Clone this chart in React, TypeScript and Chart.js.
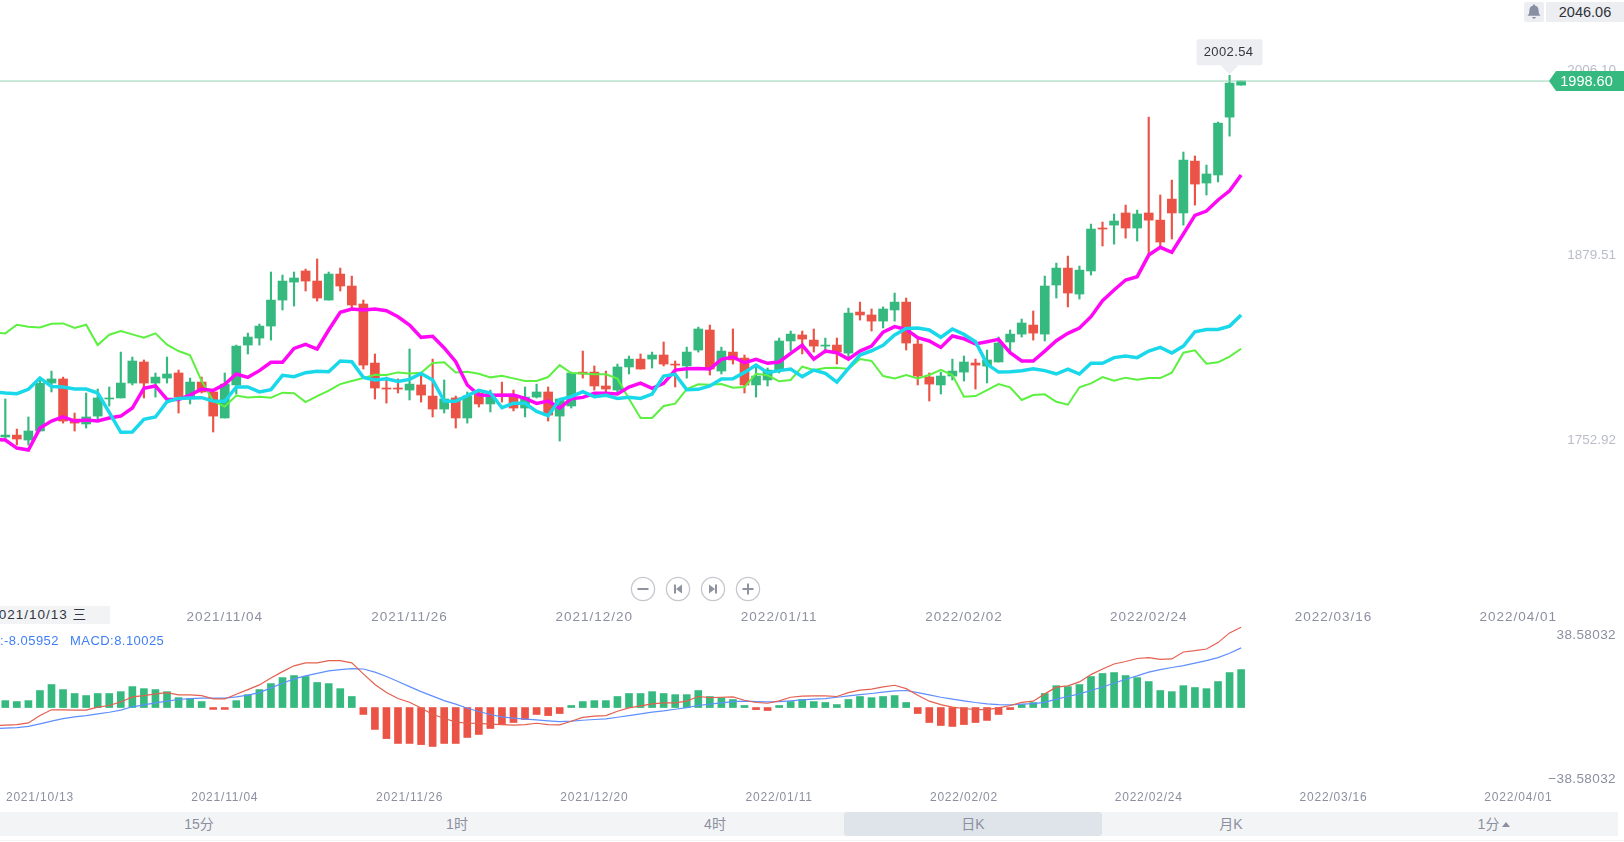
import React, { useEffect, useRef } from "react";
import { Chart, registerables } from "chart.js";

Chart.register(...registerables);

const tickIndexes = [3, 19, 35, 51, 67, 83, 99, 115, 131];
const tickDates = ["2021/10/13", "2021/11/04", "2021/11/26", "2021/12/20", "2022/01/11", "2022/02/02", "2022/02/24", "2022/03/16", "2022/04/01"];
const priceTicks = [1752.92, 1879.51, 2006.1];
const macdTicks = [-38.58032, 38.58032];
const lastPrice = 1998.6;
const peakPrice = 2002.54;

const opens = [1755.0,1756.3,1752.9,1759.1,1791.9,1794.7,1767.3,1763.9,1769.3,1781.0,1781.7,1791.9,1806.3,1791.9,1795.3,1798.8,1782.3,1792.6,1785.8,1768.0,1790.6,1817.9,1822.7,1830.9,1848.7,1861.0,1868.6,1861.7,1848.7,1866.5,1858.3,1846.0,1805.6,1788.5,1788.5,1787.1,1790.6,1783.0,1774.1,1781.7,1768.0,1785.1,1777.6,1784.4,1782.3,1774.8,1782.3,1785.8,1769.3,1776.2,1799.4,1799.4,1789.9,1787.1,1802.9,1808.3,1808.3,1811.1,1804.9,1803.6,1814.5,1828.2,1800.1,1813.1,1809.0,1790.6,1794.0,1800.8,1820.7,1824.8,1821.3,1817.2,1817.9,1812.4,1840.5,1838.5,1834.3,1841.9,1847.3,1818.6,1796.0,1790.6,1796.7,1799.4,1805.6,1803.5,1806.3,1820.0,1825.4,1831.6,1825.4,1859.0,1870.6,1852.8,1868.6,1898.0,1900.0,1908.3,1898.0,1908.3,1903.4,1917.8,1908.3,1943.8,1928.8,1934.3,1973.9,1995.8];
const closes = [1756.3,1753.6,1759.1,1791.7,1794.7,1765.9,1764.5,1768.7,1781.7,1781.7,1791.9,1807.0,1791.9,1796.0,1798.1,1782.3,1792.6,1785.8,1769.3,1791.2,1817.2,1823.4,1830.9,1848.7,1861.7,1863.8,1861.7,1850.1,1866.5,1858.3,1845.3,1804.2,1788.5,1787.8,1787.8,1791.2,1783.7,1774.1,1781.0,1768.0,1783.0,1777.6,1784.4,1783.0,1774.8,1782.3,1785.8,1770.0,1781.0,1798.8,1798.1,1789.9,1787.8,1802.9,1808.3,1801.5,1811.1,1804.9,1804.2,1813.1,1828.9,1801.5,1813.8,1807.7,1790.6,1796.7,1800.8,1820.7,1825.4,1822.0,1817.2,1817.9,1813.1,1839.8,1838.5,1834.3,1842.6,1847.3,1819.3,1796.7,1791.2,1796.7,1800.1,1806.3,1804.2,1807.7,1819.3,1825.4,1833.0,1826.1,1858.3,1870.6,1853.5,1869.2,1897.3,1897.3,1902.8,1898.0,1907.6,1903.4,1888.4,1908.3,1944.5,1928.1,1935.0,1969.8,1997.2,1998.6];
const highs = [1781.0,1760.4,1768.7,1795.1,1800.1,1796.0,1771.4,1785.1,1787.8,1789.2,1813.1,1809.7,1807.7,1798.8,1809.7,1800.8,1795.3,1796.0,1787.1,1798.8,1817.9,1826.1,1832.3,1867.9,1865.8,1867.9,1869.9,1876.8,1867.9,1870.6,1865.1,1848.7,1811.8,1796.0,1794.7,1815.2,1797.4,1808.3,1794.0,1783.0,1785.8,1787.1,1787.1,1792.6,1787.1,1789.2,1791.2,1789.2,1781.0,1799.4,1813.8,1803.6,1800.1,1804.9,1810.4,1811.8,1813.1,1820.0,1807.0,1816.5,1830.2,1831.6,1816.5,1828.9,1811.1,1804.2,1802.2,1822.7,1827.5,1827.5,1828.9,1822.7,1822.7,1843.2,1847.3,1842.6,1844.0,1853.5,1850.1,1822.0,1798.8,1799.4,1808.3,1810.4,1808.3,1814.5,1823.4,1828.2,1835.7,1841.2,1865.1,1874.0,1878.8,1872.0,1900.7,1902.1,1907.6,1913.7,1910.3,1973.9,1920.6,1930.8,1950.0,1947.3,1941.1,1970.5,2002.54,1998.6];
const lows = [1754.0,1749.5,1749.5,1759.1,1785.8,1764.5,1759.1,1761.1,1766.6,1776.2,1781.7,1790.6,1781.7,1782.3,1791.9,1771.4,1777.6,1785.1,1758.4,1768.0,1784.4,1811.8,1817.9,1821.3,1841.9,1844.6,1854.9,1848.0,1848.7,1854.9,1841.9,1801.5,1781.0,1778.2,1785.1,1780.3,1778.9,1768.7,1771.4,1761.1,1764.5,1775.5,1772.1,1778.9,1772.8,1768.7,1781.7,1765.9,1752.2,1774.8,1795.3,1787.1,1784.4,1784.4,1798.1,1801.5,1802.2,1803.6,1789.2,1795.3,1813.1,1797.4,1798.1,1804.9,1785.1,1782.3,1789.9,1798.8,1813.8,1811.8,1813.1,1812.4,1804.9,1809.7,1835.0,1827.5,1829.6,1834.3,1814.5,1790.6,1779.6,1784.4,1794.0,1793.3,1787.8,1792.0,1806.3,1813.1,1823.4,1821.3,1820.7,1850.1,1844.0,1849.4,1865.8,1885.7,1887.0,1891.1,1889.1,1879.5,1885.7,1890.5,1900.0,1913.7,1920.6,1929.5,1960.9,1995.8];

// The five line series begin one session before the first candle, just off the left edge.
const magentaLine = [1753.4,1752.9,1747.4,1746.1,1761.1,1765.9,1768.7,1765.9,1766.6,1765.9,1768.0,1769.3,1774.8,1788.3,1789.9,1780.7,1780.7,1783.7,1787.8,1786.9,1791.0,1798.1,1795.8,1800.4,1806.1,1806.1,1815.6,1818.4,1815.2,1828.2,1840.3,1842.6,1841.9,1842.6,1841.4,1837.3,1831.6,1823.2,1823.9,1815.9,1806.5,1790.6,1783.7,1783.5,1783.5,1783.7,1781.4,1778.0,1779.6,1774.8,1781.2,1782.1,1784.9,1784.9,1784.4,1789.2,1791.9,1788.3,1791.7,1800.8,1801.7,1801.9,1801.5,1808.1,1809.7,1805.8,1808.1,1805.4,1806.3,1812.2,1817.9,1808.3,1813.8,1812.7,1808.3,1813.8,1817.2,1826.8,1830.5,1828.6,1823.0,1820.7,1816.3,1824.1,1822.2,1818.6,1820.2,1821.8,1812.7,1807.0,1807.0,1813.8,1820.9,1825.9,1829.6,1837.3,1848.3,1855.6,1862.4,1864.7,1879.5,1884.8,1881.4,1893.9,1906.7,1909.6,1917.2,1923.5,1934.3];
const cyanLine = [1785.8,1785.1,1784.6,1787.6,1795.3,1789.6,1789.2,1787.8,1787.8,1785.1,1771.8,1758.2,1758.4,1767.1,1768.7,1779.1,1781.4,1781.7,1781.9,1779.6,1779.4,1789.2,1789.2,1785.8,1787.4,1797.2,1796.3,1799.0,1799.9,1799.7,1807.0,1806.5,1795.8,1794.0,1794.9,1793.0,1794.4,1798.5,1794.0,1779.6,1779.4,1783.3,1786.9,1785.1,1775.0,1778.0,1778.0,1772.5,1769.6,1780.7,1782.6,1786.0,1782.6,1783.5,1781.4,1782.1,1781.4,1784.4,1796.7,1797.9,1787.4,1787.6,1789.9,1794.7,1794.9,1799.2,1804.2,1799.0,1800.4,1801.5,1796.3,1800.8,1798.5,1792.6,1802.0,1811.1,1814.0,1817.7,1824.8,1829.3,1829.6,1828.2,1823.2,1828.9,1825.2,1820.2,1804.9,1799.4,1799.7,1800.4,1801.7,1800.4,1798.1,1801.5,1798.1,1805.4,1805.4,1809.3,1810.4,1809.3,1813.8,1816.3,1812.4,1817.2,1827.0,1828.6,1828.6,1830.9,1838.5];
const greenLine = [1826.4,1825.9,1831.8,1830.5,1830.0,1832.5,1832.7,1829.6,1831.8,1817.9,1825.0,1827.5,1825.2,1822.9,1825.9,1818.2,1813.8,1810.9,1793.3,1779.6,1775.9,1783.3,1782.1,1782.6,1781.9,1785.3,1784.9,1778.9,1783.0,1786.7,1791.2,1793.3,1795.3,1797.6,1797.4,1799.2,1798.5,1799.0,1805.6,1806.1,1799.2,1799.7,1798.3,1795.8,1796.9,1795.1,1793.3,1793.3,1796.0,1804.2,1798.8,1798.5,1797.9,1797.9,1794.9,1781.2,1768.0,1768.0,1776.2,1777.8,1787.8,1791.0,1790.8,1791.2,1788.7,1789.2,1798.3,1797.2,1793.1,1794.0,1803.1,1800.8,1802.2,1802.4,1801.5,1808.3,1807.0,1796.7,1795.1,1797.4,1795.1,1797.4,1801.0,1797.4,1782.6,1783.0,1787.1,1791.2,1789.0,1780.3,1783.7,1784.2,1779.1,1777.1,1789.0,1791.7,1796.0,1793.5,1795.6,1794.2,1795.3,1795.3,1799.0,1812.7,1814.3,1805.2,1806.1,1810.0,1815.4];

const macdHist = [3.7,3.2,3.7,9.1,12.3,9.6,7.5,6.4,7.5,7.5,8.5,11.2,10.1,9.6,8.5,5.3,4.8,3.2,-1.0,-1.0,3.7,6.9,9.6,12.8,16.0,17.1,16.6,13.4,12.8,10.1,5.9,-3.7,-11.7,-16.6,-19.2,-19.2,-19.8,-20.8,-19.2,-19.2,-16.0,-14.4,-11.2,-9.1,-8.0,-6.4,-3.7,-4.3,-3.2,1.1,3.2,3.7,3.7,5.9,7.5,7.5,8.5,7.5,6.9,6.9,9.1,5.9,5.3,4.3,1.1,-1.1,-1.6,1.1,3.2,4.3,3.2,2.7,1.6,4.3,5.9,5.3,5.9,6.4,2.7,-3.2,-8.0,-9.6,-10.1,-9.1,-8.0,-6.9,-3.7,-1.1,1.6,2.7,7.5,11.7,11.2,12.3,16.6,18.2,18.7,17.1,16.0,13.9,9.1,8.5,11.7,10.7,10.1,13.9,18.7,20.3];
const difLine = [-9.6,-9.4,-9.1,-8.2,-4.3,-1.2,-1.2,-1.4,-1.4,0.2,1.1,3.0,5.7,6.4,7.3,8.0,6.8,6.8,6.4,4.6,4.6,7.1,9.6,12.1,15.8,19.2,22.3,23.9,23.9,25.1,25.1,23.9,18.0,12.3,8.0,4.8,2.8,-0.2,-3.7,-5.7,-7.8,-8.4,-8.5,-8.9,-9.1,-9.4,-9.1,-8.4,-9.1,-9.3,-7.3,-5.3,-4.6,-4.3,-2.0,-0.2,0.9,2.0,2.5,2.5,3.4,5.9,5.3,5.5,5.7,3.9,2.7,2.3,3.6,5.5,6.1,6.2,6.2,5.9,8.0,9.3,9.8,11.0,11.9,10.1,6.6,3.4,1.6,0.2,-0.5,-1.1,-1.1,-0.2,1.1,2.8,3.4,7.3,10.9,11.6,13.7,17.6,20.6,23.3,24.6,26.2,26.7,25.8,26.0,29.7,30.4,31.3,34.7,39.9,42.9];
const deaLine = [-11.2,-11.0,-10.7,-10.1,-8.7,-7.3,-5.9,-5.0,-4.3,-3.4,-2.5,-1.4,0.4,1.4,2.5,3.4,4.3,4.8,5.0,5.0,5.0,5.7,6.6,8.0,10.5,13.0,15.3,16.9,18.3,19.6,20.3,20.8,20.6,18.9,16.6,13.9,11.2,8.5,6.1,3.7,1.8,-0.4,-2.1,-3.7,-5.0,-5.7,-6.2,-6.6,-7.1,-7.5,-7.3,-6.8,-6.4,-6.1,-5.2,-4.3,-3.4,-2.5,-1.8,-0.9,0,1.1,1.8,2.5,3.2,3.4,3.2,3.0,3.2,3.6,4.1,4.5,4.8,5.5,6.2,6.9,7.5,8.2,8.9,9.1,8.0,6.8,5.5,4.5,3.6,2.7,2.0,1.6,1.4,1.8,2.1,2.8,4.5,5.9,7.3,9.1,11.0,13.0,15.1,16.9,18.9,20.3,21.4,22.4,23.7,25.1,26.7,29.0,31.9];

const tabLabels = [
  { text: "15分", center: 199, arrow: false },
  { text: "1时", center: 457, arrow: false },
  { text: "4时", center: 715, arrow: false },
  { text: "日K", center: 973, arrow: false },
  { text: "月K", center: 1231, arrow: false },
  { text: "1分", center: 1494, arrow: true },
];

const GREEN = "#35b97f";
const RED = "#ea5345";
const AXIS_FONT = "'Liberation Sans', Arial, sans-serif";
const CJK_FONT = "'Liberation Sans', 'Noto Sans CJK SC', sans-serif";
const X_MIN = -0.459;
const X_MAX = 140.15;

const isUp = (i: number) => closes[i] >= opens[i];
const xy = (arr: number[]) => arr.map((y, x) => ({ x, y }));
const lineXy = (arr: number[]) => arr.map((y, i) => ({ x: i - 1, y }));

function labelSpacing(value: string) {
  return (s: any) => {
    if (s.__spaced) return;
    s.__spaced = true;
    const draw = s.drawLabels;
    s.drawLabels = function (area: any) {
      s.ctx.letterSpacing = value;
      draw.call(s, area);
      s.ctx.letterSpacing = "0px";
    };
  };
}

function xAxis(labelPadding: number, skipFirst: boolean, size: number, spacing: string) {
  return {
    type: "linear",
    min: X_MIN,
    max: X_MAX,
    offset: false,
    grid: { display: false },
    border: { display: false },
    afterFit: (s: any) => { s.height = 30; },
    afterUpdate: labelSpacing(spacing),
    afterBuildTicks: (s: any) => { s.ticks = tickIndexes.slice(skipFirst ? 1 : 0).map((value) => ({ value })); },
    ticks: {
      autoSkip: false,
      maxRotation: 0,
      minRotation: 0,
      padding: labelPadding,
      color: "#8c8fa0",
      font: { family: AXIS_FONT, size },
      callback: (v: number) => tickDates[tickIndexes.indexOf(v)] ?? "",
    },
  };
}

function yAxis(min: number, max: number, values: number[], color: string, size: number, spacing: string, fmt: (v: number) => string) {
  return {
    position: "right",
    min,
    max,
    grid: { display: false },
    border: { display: false },
    afterFit: (s: any) => { s.width = 0; },
    afterUpdate: labelSpacing(spacing),
    afterBuildTicks: (s: any) => { s.ticks = values.map((value) => ({ value })); },
    ticks: {
      mirror: true,
      padding: -8,
      color,
      font: { family: AXIS_FONT, size },
      callback: fmt,
    },
  };
}

const priceMarks = {
  id: "priceMarks",
  afterDraw(chart: any) {
    const { ctx, scales } = chart;
    const x = scales.x.getPixelForValue(106);
    const yPeak = scales.y.getPixelForValue(peakPrice);
    const yLast = scales.y.getPixelForValue(lastPrice);
    ctx.save();
    ctx.letterSpacing = "0.4px";
    ctx.fillStyle = "#eceef2";
    ctx.beginPath();
    ctx.roundRect(x - 33, yPeak - 36, 66, 26, 2);
    ctx.fill();
    ctx.beginPath();
    ctx.moveTo(x - 9, yPeak - 10);
    ctx.lineTo(x, yPeak - 1);
    ctx.lineTo(x + 9, yPeak - 10);
    ctx.fill();
    ctx.fillStyle = "#33363f";
    ctx.font = `13px ${AXIS_FONT}`;
    ctx.textAlign = "center";
    ctx.textBaseline = "middle";
    ctx.fillText(peakPrice.toFixed(2), x - 1, yPeak - 23);
    ctx.fillStyle = GREEN;
    ctx.beginPath();
    ctx.moveTo(1549, yLast);
    ctx.lineTo(1556, yLast - 10);
    ctx.lineTo(1624, yLast - 10);
    ctx.lineTo(1624, yLast + 10);
    ctx.lineTo(1556, yLast + 10);
    ctx.closePath();
    ctx.fill();
    ctx.letterSpacing = "0px";
    ctx.fillStyle = "#ffffff";
    ctx.font = `14.5px ${AXIS_FONT}`;
    ctx.fillText(lastPrice.toFixed(2), 1586.5, yLast + 0.5);
    ctx.restore();
  },
};

function lineSet(data: number[], color: string, width: number, order: number) {
  return {
    type: "line",
    data: lineXy(data),
    borderColor: color,
    backgroundColor: color,
    borderWidth: width,
    pointRadius: 0,
    tension: 0,
    order,
  };
}

function RoundButton({ cx, children }: { cx: number; children: React.ReactNode }) {
  return (
    <svg width={26} height={26} viewBox="0 0 26 26" style={{ position: "absolute", left: cx - 13, top: 576 }}>
      <circle cx={13} cy={13} r={11.6} fill="#fff" stroke="#c6c8cf" strokeWidth={1.3} />
      {children}
    </svg>
  );
}

export default function App() {
  const mainRef = useRef<HTMLCanvasElement>(null);
  const macdRef = useRef<HTMLCanvasElement>(null);

  useEffect(() => {
    const candleColors = opens.map((_, i) => (isUp(i) ? GREEN : RED));
    const main = new Chart(mainRef.current!, {
      type: "bar",
      data: {
        datasets: [
          lineSet(cyanLine, "#19d8ea", 3.5, 1),
          lineSet(magentaLine, "#ff08f5", 3.5, 2),
          lineSet(greenLine, "#5cf040", 2, 3),
          { type: "line", data: [{ x: X_MIN, y: lastPrice }, { x: X_MAX, y: lastPrice }], borderColor: "#94d4b7", borderWidth: 1, pointRadius: 0, order: 4 },
          {
            type: "bar",
            grouped: false,
            data: opens.map((o, i) => ({ x: i, y: [o, closes[i]] })),
            backgroundColor: candleColors,
            barThickness: 9,
            borderWidth: 0,
            borderSkipped: false,
            order: 5,
          },
          {
            type: "bar",
            grouped: false,
            data: highs.map((h, i) => ({ x: i, y: [lows[i], h] })),
            backgroundColor: candleColors,
            barThickness: 1.5,
            borderWidth: 0,
            borderSkipped: false,
            order: 6,
          },
        ] as any,
      },
      options: {
        responsive: false,
        animation: false,
        layout: { padding: 0 },
        plugins: { legend: { display: false }, tooltip: { enabled: false } },
        events: [],
        scales: {
          x: xAxis(1, true, 13.5, "1px"),
          y: yAxis(1643.43, 2053.99, priceTicks, "#babdc8", 13.5, "0px", (v: number) => v.toFixed(2)),
        } as any,
      },
      plugins: [priceMarks],
    });

    const macd = new Chart(macdRef.current!, {
      type: "bar",
      data: {
        datasets: [
          lineSet(difLine, "#e4604f", 1.2, 1),
          lineSet(deaLine, "#5f8fff", 1.2, 2),
          {
            type: "bar",
            grouped: false,
            data: xy(macdHist),
            backgroundColor: macdHist.map((v) => (v >= 0 ? GREEN : RED)),
            barThickness: 7,
            borderWidth: 0,
            borderSkipped: false,
            order: 3,
          },
        ] as any,
      },
      options: {
        responsive: false,
        animation: false,
        layout: { padding: 0 },
        plugins: { legend: { display: false }, tooltip: { enabled: false } },
        events: [],
        scales: {
          x: xAxis(0, false, 12, "0.8px"),
          y: yAxis(-39.8, 46.74, macdTicks, "#8c8fa0", 13.5, "0.4px", (v: number) => v.toFixed(5).replace("-", "−")),
        } as any,
      },
    });

    return () => {
      main.destroy();
      macd.destroy();
    };
  }, []);

  return (
    <div style={{ position: "fixed", left: 0, top: 0, width: 1624, height: 842, overflow: "hidden", background: "#fff", fontFamily: CJK_FONT }}>
      <canvas ref={mainRef} width={1624} height={630} style={{ position: "absolute", left: 0, top: 0, display: "block" }} />
      <canvas ref={macdRef} width={1624} height={192} style={{ position: "absolute", left: 0, top: 620, display: "block" }} />

      <div style={{ position: "absolute", left: 1524, top: 2, width: 20, height: 20, background: "#eceef2", borderRadius: 2 }}>
        <svg width={20} height={20} viewBox="0 0 20 20">
          <path d="M10 2.6c.7 0 1.2.5 1.2 1.1 2.2.5 3.4 2.2 3.4 4.6 0 2.900.7 4.300 1.900 5.500H3.500c1.200-1.200 1.900-2.600 1.900-5.500 0-2.400 1.200-4.100 3.400-4.600 0-.6.500-1.100 1.200-1.100z" fill="#8a8ea3" />
          <path d="M8.200 15h3.600c-.2 1-.9 1.700-1.800 1.700S8.400 16 8.200 15z" fill="#8a8ea3" />
        </svg>
      </div>
      <div style={{ position: "absolute", left: 1546, top: 2, width: 78, height: 20, lineHeight: "20px", background: "#eceef2", textAlign: "center", fontSize: 14.5, color: "#2f3138" }}>2046.06</div>

      <RoundButton cx={643.3}>
        <rect x={7.5} y={12} width={11} height={2} fill="#8f93a0" />
      </RoundButton>
      <RoundButton cx={678.3}>
        <rect x={9} y={8.5} width={2} height={9} fill="#8f93a0" />
        <path d="M17 8.500v9l-6-4.500z" fill="#8f93a0" />
      </RoundButton>
      <RoundButton cx={712.7}>
        <rect x={15} y={8.5} width={2} height={9} fill="#8f93a0" />
        <path d="M9 8.500v9l6-4.500z" fill="#8f93a0" />
      </RoundButton>
      <RoundButton cx={748}>
        <rect x={7.5} y={12} width={11} height={2} fill="#8f93a0" />
        <rect x={12} y={7.5} width={2} height={11} fill="#8f93a0" />
      </RoundButton>

      <div style={{ position: "absolute", left: 0, top: 606, width: 110, height: 18, background: "#f2f3f5", overflow: "hidden" }}>
        <span style={{ position: "absolute", right: 23, top: 0, lineHeight: "18px", fontSize: 13.5, letterSpacing: 1, whiteSpace: "nowrap", color: "#33363f" }}>2021/10/13 三</span>
      </div>

      <div style={{ position: "absolute", left: 0, top: 632, width: 180, height: 18, overflow: "hidden", fontSize: 13, lineHeight: "18px", letterSpacing: 0.45, whiteSpace: "nowrap", color: "#3f7ff5" }}>
        <span style={{ position: "absolute", right: 121, top: 0 }}>DEA:-8.05952</span>
        <span style={{ position: "absolute", left: 70, top: 0 }}>MACD:8.10025</span>
      </div>

      <div style={{ position: "absolute", left: 0, top: 812, width: 1618, height: 24, background: "#f3f4f6" }}>
        <div style={{ position: "absolute", left: 844, top: 0, width: 258, height: 24, background: "#dfe3ea", borderRadius: 3 }} />
        {tabLabels.map((t) => (
          <span key={t.text} style={{ position: "absolute", left: t.center - 60, width: 120, top: 0, lineHeight: "24px", textAlign: "center", fontSize: 14, color: "#8c8fa0", whiteSpace: "nowrap" }}>
            {t.text}
            {t.arrow ? <span style={{ display: "inline-block", marginLeft: 3, verticalAlign: 2, width: 0, height: 0, borderLeft: "4.5px solid transparent", borderRight: "4.5px solid transparent", borderBottom: "5px solid #8c8fa0" }} /> : null}
          </span>
        ))}
      </div>
      <div style={{ position: "absolute", left: 0, top: 840, width: 1624, height: 1, background: "#f3f4f6" }} />
    </div>
  );
}
